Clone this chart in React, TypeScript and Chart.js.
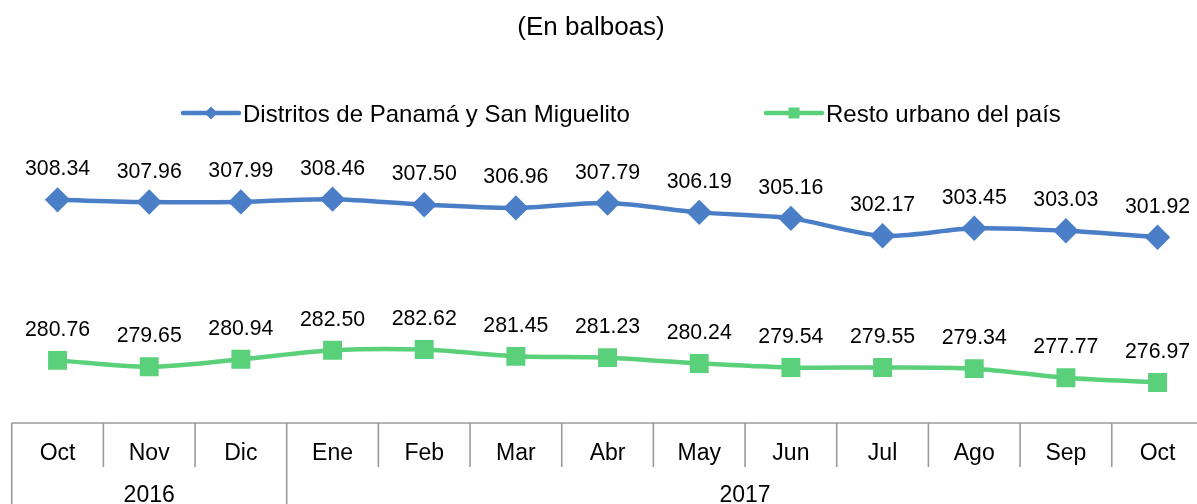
import React, { useEffect, useRef } from "react";
import { Chart, registerables } from "chart.js";

Chart.register(...registerables);

const months = ["Oct", "Nov", "Dic", "Ene", "Feb", "Mar", "Abr", "May", "Jun", "Jul", "Ago", "Sep", "Oct"];
const distritos = [308.34, 307.96, 307.99, 308.46, 307.5, 306.96, 307.79, 306.19, 305.16, 302.17, 303.45, 303.03, 301.92];
const resto = [280.76, 279.65, 280.94, 282.5, 282.62, 281.45, 281.23, 280.24, 279.54, 279.55, 279.34, 277.77, 276.97];
const years = ["2016", "2017"];
const yearSpans = [3, 10];
const seriesNames = ["Distritos de Panamá y San Miguelito", "Resto urbano del país"];
const titleText = "(En balboas)";

const BLUE = "#4A7EC7";
const GREEN = "#5BD07A";
const FONT = '"Liberation Sans", Arial, sans-serif';

const overlay = {
  id: "overlay",
  afterDraw(chart: any) {
    const ctx = chart.ctx as CanvasRenderingContext2D;
    const x = chart.scales.x;
    const area = chart.chartArea;
    ctx.save();
    // title
    ctx.fillStyle = "#000";
    ctx.font = `26px ${FONT}`;
    ctx.textAlign = "center";
    ctx.textBaseline = "alphabetic";
    ctx.fillText(titleText, 591, 35);

    // legend
    const drawLegend = (x0: number, x1: number, color: string, kind: string, label: string) => {
      const y = 113;
      ctx.strokeStyle = color;
      ctx.lineWidth = 4.5;
      ctx.lineCap = "round";
      ctx.beginPath();
      ctx.moveTo(x0, y);
      ctx.lineTo(x1, y);
      ctx.stroke();
      const cx = (x0 + x1) / 2;
      ctx.fillStyle = color;
      ctx.beginPath();
      if (kind === "diamond") {
        ctx.moveTo(cx, y - 6.5);
        ctx.lineTo(cx + 6.5, y);
        ctx.lineTo(cx, y + 6.5);
        ctx.lineTo(cx - 6.5, y);
        ctx.closePath();
      } else {
        ctx.rect(cx - 5.5, y - 5.5, 11, 11);
      }
      ctx.fill();
      ctx.fillStyle = "#000";
      ctx.font = `24px ${FONT}`;
      ctx.textAlign = "left";
      ctx.fillText(label, x1 + 4, 122);
    };
    drawLegend(183, 239, BLUE, "diamond", seriesNames[0]);
    drawLegend(766, 822, GREEN, "square", seriesNames[1]);

    // data labels
    ctx.font = `21.3px ${FONT}`;
    ctx.textAlign = "center";
    ctx.fillStyle = "#000";
    chart.data.datasets.forEach((ds: any, di: number) => {
      const meta = chart.getDatasetMeta(di);
      meta.data.forEach((pt: any, i: number) => {
        ctx.fillText(ds.data[i].toFixed(2), pt.x, pt.y - 24.5);
      });
    });

    // category axis table
    const half = (x.getPixelForValue(1) - x.getPixelForValue(0)) / 2;
    const bottom = area.bottom;
    ctx.strokeStyle = "#9a9a9a";
    ctx.lineWidth = 1.6;
    ctx.lineCap = "butt";
    const left = x.getPixelForValue(0) - half;
    const right = x.getPixelForValue(months.length - 1) + half;
    ctx.beginPath();
    ctx.moveTo(left, bottom);
    ctx.lineTo(right, bottom);
    ctx.stroke();
    const yearBounds = new Set<number>();
    let acc = 0;
    yearBounds.add(0);
    yearSpans.forEach((s) => {
      acc += s;
      yearBounds.add(acc);
    });
    for (let i = 0; i <= months.length; i++) {
      const bx = x.getPixelForValue(0) - half + i * 2 * half;
      ctx.beginPath();
      ctx.moveTo(bx, bottom);
      ctx.lineTo(bx, yearBounds.has(i) ? chart.height : bottom + 44);
      ctx.stroke();
    }
    ctx.fillStyle = "#000";
    ctx.font = `23px ${FONT}`;
    ctx.textAlign = "center";
    months.forEach((m, i) => {
      ctx.fillText(m, x.getPixelForValue(i), 460);
    });
    let start = 0;
    years.forEach((yl, yi) => {
      const end = start + yearSpans[yi] - 1;
      const cx = (x.getPixelForValue(start) + x.getPixelForValue(end)) / 2;
      ctx.fillText(yl, cx, 502);
      start += yearSpans[yi];
    });
    ctx.restore();
  },
};

export default function App() {
  const ref = useRef<HTMLCanvasElement>(null);
  useEffect(() => {
    if (!ref.current) return;
    const chart = new Chart(ref.current, {
      type: "line",
      data: {
        labels: months,
        datasets: [
          {
            label: seriesNames[0],
            data: distritos,
            borderColor: BLUE,
            backgroundColor: BLUE,
            borderWidth: 4.5,
            pointStyle: "rectRot",
            pointRadius: 12.7,
            pointBorderWidth: 0,
            tension: 0.3,
          },
          {
            label: seriesNames[1],
            data: resto,
            borderColor: GREEN,
            backgroundColor: GREEN,
            borderWidth: 4.5,
            pointStyle: "rect",
            pointRadius: 13.4,
            pointBorderWidth: 0,
            tension: 0.3,
          },
        ],
      },
      options: {
        responsive: false,
        animation: false,
        devicePixelRatio: 1,
        layout: { autoPadding: false, padding: { left: 11.7, right: 1.6, top: 132, bottom: 81 } },
        plugins: { legend: { display: false }, title: { display: false }, tooltip: { enabled: false } },
        scales: {
          x: { type: "category", offset: true, display: false },
          y: { display: false, min: 270, max: 320 },
        },
      },
      plugins: [overlay],
    });
    return () => chart.destroy();
  }, []);
  return (
    <div style={{ position: "fixed", left: 0, top: 0, width: 1197, height: 504, overflow: "hidden", background: "#fff" }}>
      <canvas ref={ref} width={1205} height={504} style={{ width: 1205, height: 504, display: "block" }} />
    </div>
  );
}
